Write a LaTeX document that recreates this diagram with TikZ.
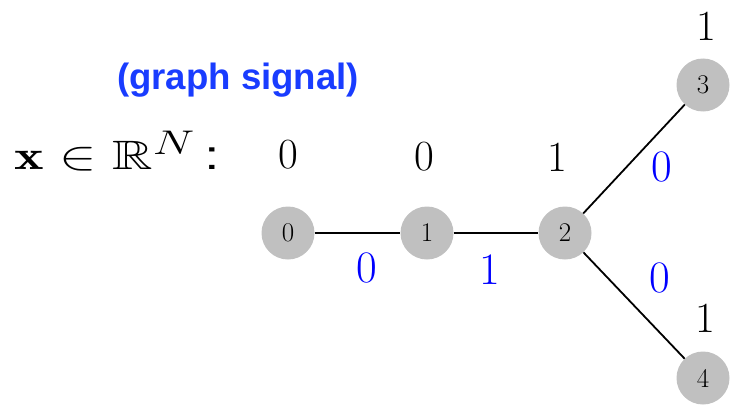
\documentclass[tikz,border=0pt]{standalone}
\usepackage{amssymb}
\usepackage{fontspec}
\newfontfamily\arialfont{Liberation Sans}
\definecolor{nodegray}{RGB}{192,192,192}
\definecolor{sigblue}{RGB}{25,60,255}
\definecolor{edgeblue}{RGB}{0,0,255}
\begin{document}
\begin{tikzpicture}[x=1pt,y=-1pt,
  vtx/.style={circle,fill=nodegray,minimum size=53pt,inner sep=0pt,font=\fontsize{27}{30}\selectfont},
  val/.style={font=\fontsize{43}{50}\selectfont,inner sep=0pt},
  wt/.style={font=\fontsize{45}{52}\selectfont,text=edgeblue,inner sep=0pt},
  edge/.style={line width=1.8pt}]
\useasboundingbox (0,0) rectangle (730,404);
\node[vtx] (n0) at (288,233) {0};
\node[vtx] (n1) at (427,233) {1};
\node[vtx] (n2) at (565,233) {2};
\node[vtx] (n3) at (703,85) {3};
\node[vtx] (n4) at (703,378) {4};
\draw[edge] (n0) -- (n1);
\draw[edge] (n1) -- (n2);
\draw[edge] (n2) -- (n3);
\draw[edge] (n2) -- (n4);
\node[val] (v0) at (288,155) {0};
\node[val] (v1) at (424,157) {0};
\node[val] (v2) at (557,157) {1};
\node[val] (v3) at (706,26) {1};
\node[val] (v4) at (705,318) {1};
\node[wt] (w01) at (367,268) {0};
\node[wt] (w12) at (490,270) {1};
\node[wt] (w23) at (662,167) {0};
\node[wt] (w24) at (660,278) {0};
\node[font=\arialfont\bfseries\fontsize{36.6}{40}\selectfont,text=sigblue,inner sep=0pt] (gs) at (238,80) {(graph signal)};
\node[anchor=base west,inner sep=0pt,xscale=2.25,yscale=1.65,font=\fontsize{24.88}{30}\selectfont] (xl) at (14,169) {$\mathbf{x}\in\mathbb{R}^N$\,{\arialfont :}};
\end{tikzpicture}
\end{document}
